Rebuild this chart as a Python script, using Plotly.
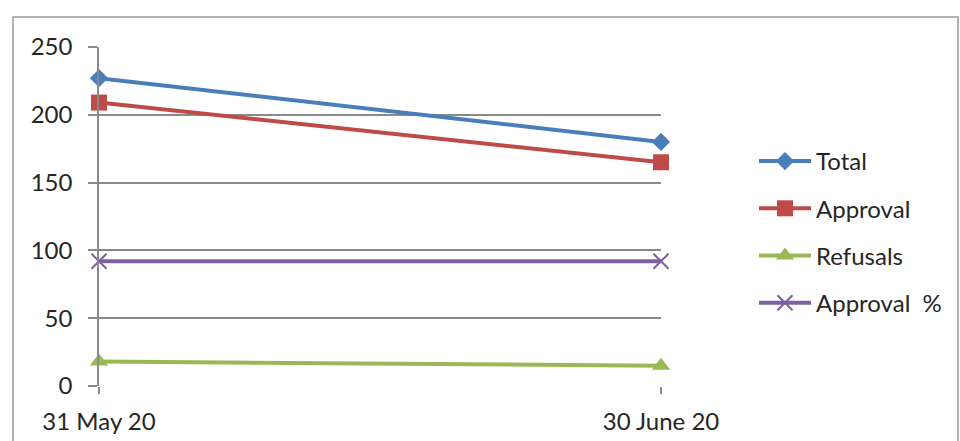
import plotly.graph_objects as go

# Monthly application figures
dates = ["31 May 20", "30 June 20"]
total = [227, 180]
approval = [209, 165]
refusals = [18, 15]
approval_pct = [92, 92]

y_ticks = [0, 50, 100, 150, 200, 250]

series = [
    ("Total", total, "#4A7EBB", "diamond", 14, 0),
    ("Approval", approval, "#BE4B48", "square", 16, 0),
    ("Refusals", refusals, "#98B954", "triangle-up", 16, 0),
    ("Approval  %", approval_pct, "#7D60A0", "x-thin-open", 15, 2),
]

fig = go.Figure()
for i, (name, vals, color, symbol, size, mlw) in enumerate(series):
    marker = dict(symbol=symbol, size=size, color=color)
    if mlw:
        marker["line"] = dict(color=color, width=mlw)
    fig.add_trace(go.Scatter(
        x=dates, y=vals, name=name, mode="lines+markers",
        line=dict(color=color, width=4), marker=marker,
        legendgroup=f"g{i}", cliponaxis=False,
    ))

grid = "#8A8A8A"
text_font = dict(family="Lato, sans-serif", size=24, color="#262626")

fig.update_layout(
    width=960, height=441,
    margin=dict(l=99, r=299, t=47, b=55, autoexpand=False),
    paper_bgcolor="white", plot_bgcolor="white",
    font=text_font,
    showlegend=True,
    legend=dict(
        xref="container", yref="container",
        x=754 / 960, y=(441 - 139) / 441,
        xanchor="left", yanchor="top",
        tracegroupgap=13, traceorder="grouped",
        itemwidth=52,
        font=text_font,
        bgcolor="rgba(0,0,0,0)",
    ),
    xaxis=dict(
        type="category", range=[0, 1], automargin=False,
        showgrid=False, showline=False, zeroline=False,
        ticks="outside", ticklen=7, tickcolor=grid, tickwidth=1.5,
        ticklabelstandoff=7,
    ),
    yaxis=dict(
        range=[0, 250], tickvals=y_ticks, automargin=False,
        showgrid=True, gridcolor=grid, gridwidth=1.5,
        showline=True, linecolor=grid, linewidth=1.5,
        zeroline=False,
        ticks="outside", ticklen=9, tickcolor=grid, tickwidth=1.5,
        ticklabelstandoff=11,
    ),
    shapes=[dict(
        type="rect", xref="paper", yref="paper",
        x0=(13 - 99) / 562, x1=(958 - 99) / 562,
        y0=-0.3, y1=(386 - 17) / 339,
        line=dict(color="#9A9A9A", width=1.5), layer="below",
    )],
)

fig.write_html("out.html")
